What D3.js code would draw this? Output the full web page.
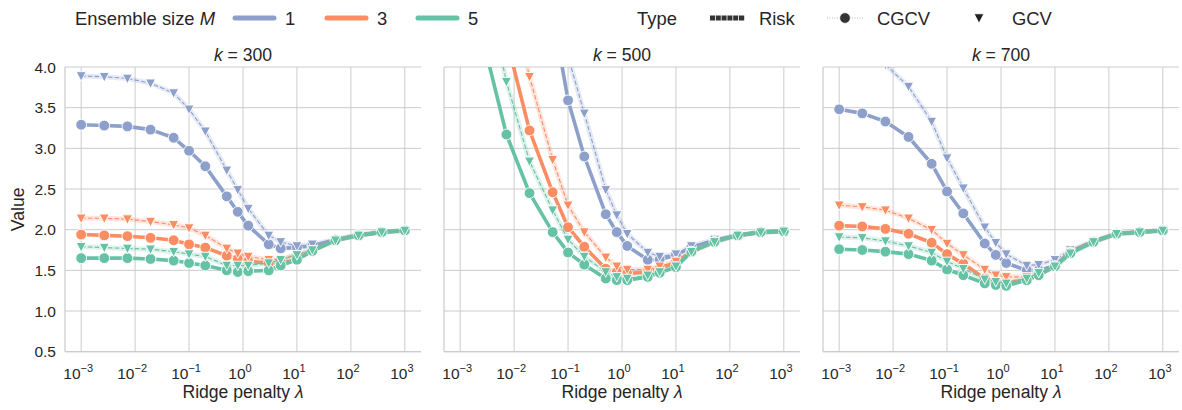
<!DOCTYPE html>
<html>
<head>
<meta charset="utf-8">
<script src="https://cdn.jsdelivr.net/npm/d3@7"></script>
<style>
  body { margin: 0; background: #fff; }
  text { font-family: "Liberation Sans", Arial, sans-serif; fill: #262626; }
</style>
</head>
<body>
<svg id="chart" width="1182" height="410"></svg>
<script>
// Ridge penalty grid (lambda) shared by every series
const lambdas = [0.001, 0.00268, 0.0072, 0.0193, 0.0518, 0.1, 0.2, 0.5, 0.8, 1.25, 3, 5, 10, 19.3, 51.8, 139, 373, 1000];
const panelKs = [300, 500, 700];
const ensembleSizes = [1, 3, 5];
const typeNames = ["Risk", "CGCV", "GCV"];
const xTickExponents = [-3, -2, -1, 0, 1, 2, 3];
const yTickValues = [0.5, 1.0, 1.5, 2.0, 2.5, 3.0, 3.5, 4.0];

// k = 300
const risk300M1 = [3.29, 3.28, 3.27, 3.23, 3.13, 2.97, 2.78, 2.41, 2.22, 2.05, 1.82, 1.77, 1.78, 1.80, 1.88, 1.93, 1.97, 1.99];
const cgcv300M1 = [3.29, 3.28, 3.27, 3.23, 3.13, 2.97, 2.78, 2.41, 2.22, 2.05, 1.82, 1.77, 1.78, 1.80, 1.88, 1.93, 1.97, 1.99];
const gcv300M1  = [3.89, 3.88, 3.86, 3.80, 3.68, 3.48, 3.21, 2.73, 2.49, 2.26, 1.93, 1.85, 1.80, 1.82, 1.88, 1.94, 1.97, 1.99];
const risk300M3 = [1.94, 1.93, 1.92, 1.90, 1.87, 1.82, 1.78, 1.68, 1.64, 1.61, 1.59, 1.59, 1.63, 1.74, 1.87, 1.93, 1.97, 1.99];
const cgcv300M3 = [1.94, 1.93, 1.92, 1.90, 1.87, 1.82, 1.78, 1.68, 1.64, 1.61, 1.59, 1.59, 1.63, 1.74, 1.87, 1.93, 1.97, 1.99];
const gcv300M3  = [2.14, 2.14, 2.13, 2.10, 2.06, 2.02, 1.93, 1.77, 1.71, 1.67, 1.63, 1.64, 1.69, 1.75, 1.87, 1.93, 1.97, 1.99];
const risk300M5 = [1.65, 1.65, 1.65, 1.64, 1.62, 1.59, 1.56, 1.50, 1.48, 1.49, 1.50, 1.56, 1.63, 1.74, 1.87, 1.93, 1.97, 1.99];
const cgcv300M5 = [1.65, 1.65, 1.65, 1.64, 1.62, 1.59, 1.56, 1.50, 1.48, 1.49, 1.50, 1.56, 1.63, 1.74, 1.87, 1.93, 1.97, 1.99];
const gcv300M5  = [1.79, 1.78, 1.77, 1.76, 1.73, 1.70, 1.67, 1.56, 1.56, 1.56, 1.59, 1.63, 1.69, 1.75, 1.87, 1.93, 1.97, 1.99];

// k = 500
const risk500M1 = [9.0, 8.0, 7.0, 5.8, 4.67, 3.59, 2.90, 2.19, 1.97, 1.80, 1.63, 1.63, 1.69, 1.78, 1.87, 1.93, 1.97, 1.98];
const cgcv500M1 = [9.0, 8.0, 7.0, 5.8, 4.67, 3.59, 2.90, 2.19, 1.97, 1.80, 1.63, 1.63, 1.69, 1.78, 1.87, 1.93, 1.97, 1.98];
const gcv500M1  = [9.5, 8.5, 7.4, 6.2, 5.3, 4.13, 3.43, 2.49, 2.18, 1.95, 1.72, 1.67, 1.70, 1.80, 1.88, 1.93, 1.97, 1.98];
const risk500M3 = [6.5, 5.5, 4.35, 3.22, 2.46, 2.03, 1.79, 1.52, 1.48, 1.46, 1.48, 1.52, 1.60, 1.73, 1.85, 1.93, 1.97, 1.98];
const cgcv500M3 = [6.5, 5.5, 4.35, 3.22, 2.46, 2.03, 1.79, 1.52, 1.48, 1.46, 1.48, 1.52, 1.60, 1.73, 1.85, 1.93, 1.97, 1.98];
const gcv500M3  = [7.5, 6.3, 5.1, 3.88, 2.86, 2.30, 1.97, 1.66, 1.55, 1.51, 1.51, 1.55, 1.61, 1.73, 1.85, 1.93, 1.97, 1.98];
const risk500M5 = [5.5, 4.32, 3.17, 2.45, 1.97, 1.72, 1.57, 1.40, 1.38, 1.38, 1.42, 1.47, 1.54, 1.73, 1.85, 1.93, 1.97, 1.98];
const cgcv500M5 = [5.5, 4.32, 3.17, 2.45, 1.97, 1.72, 1.57, 1.40, 1.38, 1.38, 1.42, 1.47, 1.54, 1.73, 1.85, 1.93, 1.97, 1.98];
const gcv500M5  = [6.5, 5.1, 3.82, 2.84, 2.24, 1.88, 1.67, 1.48, 1.42, 1.40, 1.44, 1.48, 1.55, 1.73, 1.85, 1.93, 1.97, 1.98];

// k = 700
const risk700M1 = [3.48, 3.43, 3.33, 3.14, 2.81, 2.47, 2.20, 1.83, 1.69, 1.59, 1.50, 1.50, 1.56, 1.73, 1.86, 1.95, 1.97, 1.99];
const cgcv700M1 = [3.48, 3.43, 3.33, 3.14, 2.81, 2.47, 2.20, 1.83, 1.69, 1.59, 1.50, 1.50, 1.56, 1.73, 1.86, 1.95, 1.97, 1.99];
const gcv700M1  = [4.5, 4.25, 4.03, 3.76, 3.33, 2.88, 2.51, 2.03, 1.84, 1.70, 1.56, 1.57, 1.63, 1.75, 1.86, 1.95, 1.97, 1.99];
const risk700M3 = [2.05, 2.04, 2.01, 1.95, 1.84, 1.70, 1.58, 1.40, 1.36, 1.35, 1.38, 1.44, 1.55, 1.72, 1.85, 1.95, 1.97, 1.99];
const cgcv700M3 = [2.05, 2.04, 2.01, 1.95, 1.84, 1.70, 1.58, 1.40, 1.36, 1.35, 1.38, 1.44, 1.55, 1.72, 1.85, 1.95, 1.97, 1.99];
const gcv700M3  = [2.30, 2.28, 2.24, 2.14, 2.00, 1.83, 1.69, 1.51, 1.44, 1.42, 1.42, 1.46, 1.53, 1.72, 1.85, 1.95, 1.97, 1.99];
const risk700M5 = [1.76, 1.75, 1.73, 1.70, 1.62, 1.51, 1.44, 1.34, 1.32, 1.31, 1.38, 1.44, 1.55, 1.71, 1.85, 1.95, 1.97, 1.99];
const cgcv700M5 = [1.76, 1.75, 1.73, 1.70, 1.62, 1.51, 1.44, 1.34, 1.32, 1.31, 1.38, 1.44, 1.55, 1.71, 1.85, 1.95, 1.97, 1.99];
const gcv700M5  = [1.91, 1.90, 1.86, 1.80, 1.72, 1.61, 1.52, 1.39, 1.36, 1.34, 1.40, 1.47, 1.55, 1.71, 1.85, 1.95, 1.97, 1.99];

const seriesByPanel = {
  300: { 1: [risk300M1, cgcv300M1, gcv300M1], 3: [risk300M3, cgcv300M3, gcv300M3], 5: [risk300M5, cgcv300M5, gcv300M5] },
  500: { 1: [risk500M1, cgcv500M1, gcv500M1], 3: [risk500M3, cgcv500M3, gcv500M3], 5: [risk500M5, cgcv500M5, gcv500M5] },
  700: { 1: [risk700M1, cgcv700M1, gcv700M1], 3: [risk700M3, cgcv700M3, gcv700M3], 5: [risk700M5, cgcv700M5, gcv700M5] }
};

const colorOf = d3.scaleOrdinal().domain(ensembleSizes).range(["#8da0cb", "#fc8d62", "#66c2a5"]);

// Layout
const svg = d3.select("#chart");
const panelLeft = [65, 444, 823];
const panelW = 356;
const panelTop = 67;
const panelH = 284.7;
const gridColor = "#cccccc";
const tickFont = 15.5;
const labelFont = 17.6;

const x = d3.scaleLog().domain([Math.pow(10, -3.3), Math.pow(10, 3.3)]).range([0, panelW]);
const y = d3.scaleLinear().domain([0.5, 4.0]).range([panelH, 0]);

const trianglePath = (h) => `M${-h},${-h * 0.85}L${h},${-h * 0.85}L0,${h * 1.05}Z`;

panelKs.forEach((k, pi) => {
  const g = svg.append("g").attr("transform", `translate(${panelLeft[pi]},${panelTop})`);

  // grid
  g.append("g").selectAll("line").data(xTickExponents).join("line")
    .attr("x1", e => x(Math.pow(10, e))).attr("x2", e => x(Math.pow(10, e)))
    .attr("y1", 0).attr("y2", panelH)
    .attr("stroke", gridColor).attr("stroke-width", 1);
  g.append("g").selectAll("line").data(yTickValues).join("line")
    .attr("x1", 0).attr("x2", panelW)
    .attr("y1", v => y(v)).attr("y2", v => y(v))
    .attr("stroke", gridColor).attr("stroke-width", 1);

  // spines
  g.append("line").attr("x1", 0).attr("x2", 0).attr("y1", 0).attr("y2", panelH)
    .attr("stroke", gridColor).attr("stroke-width", 1.25);
  g.append("line").attr("x1", 0).attr("x2", panelW).attr("y1", panelH).attr("y2", panelH)
    .attr("stroke", gridColor).attr("stroke-width", 1.25);

  // x tick labels: 10^e
  const xt = g.append("g");
  xTickExponents.forEach(e => {
    const t = xt.append("text")
      .attr("x", x(Math.pow(10, e)) - 3)
      .attr("y", panelH + 27)
      .attr("text-anchor", "middle")
      .attr("font-size", tickFont);
    t.append("tspan").text("10");
    t.append("tspan").attr("dy", -7).attr("font-size", 11)
      .text((e < 0 ? "\u2212" : "") + Math.abs(e));
  });

  // y tick labels (first panel only)
  if (pi === 0) {
    g.append("g").selectAll("text").data(yTickValues).join("text")
      .attr("x", -9).attr("y", v => y(v)).attr("dy", "0.36em")
      .attr("text-anchor", "end").attr("font-size", tickFont)
      .text(v => v.toFixed(1));
    g.append("text")
      .attr("transform", `translate(-41,${panelH / 2}) rotate(-90)`)
      .attr("text-anchor", "middle").attr("font-size", labelFont)
      .text("Value");
  }

  // x label
  const xl = g.append("text").attr("x", panelW / 2).attr("y", panelH + 46)
    .attr("text-anchor", "middle").attr("font-size", labelFont);
  xl.append("tspan").text("Ridge penalty ");
  xl.append("tspan").attr("font-style", "italic").text("\u03bb");

  // title
  const tt = g.append("text").attr("x", panelW / 2).attr("y", -6)
    .attr("text-anchor", "middle").attr("font-size", labelFont);
  tt.append("tspan").attr("font-style", "italic").text("k");
  tt.append("tspan").text(" = " + k);

  // clipped data area
  const clipId = "clip" + k;
  g.append("clipPath").attr("id", clipId).append("rect")
    .attr("x", 0).attr("y", 0).attr("width", panelW).attr("height", panelH);
  const area = g.append("g").attr("clip-path", `url(#${clipId})`);

  const line = d3.line().x(d => x(d[0])).y(d => y(d[1]));

  ensembleSizes.forEach(M => {
    const c = colorOf(M);
    const [risk, cgcv, gcv] = seriesByPanel[k][M];
    const pts = arr => lambdas.map((l, i) => [l, arr[i]]);

    // Risk: thick solid line
    area.append("path").datum(pts(risk)).attr("d", line)
      .attr("fill", "none").attr("stroke", c).attr("stroke-width", 3.6)
      .attr("stroke-linejoin", "round").attr("stroke-linecap", "round");

    // CGCV: dotted line with circles
    area.append("path").datum(pts(cgcv)).attr("d", line)
      .attr("fill", "none").attr("stroke", c).attr("stroke-width", 1)
      .attr("stroke-dasharray", "1,2");
    area.append("g").selectAll("circle").data(pts(cgcv)).join("circle")
      .attr("cx", d => x(d[0])).attr("cy", d => y(d[1])).attr("r", 5.4)
      .attr("fill", c).attr("stroke", "#fff").attr("stroke-width", 0.9);

    // GCV: light band, dashed line with down-pointing triangles
    area.append("path").datum(pts(gcv)).attr("d", line)
      .attr("fill", "none").attr("stroke", c).attr("stroke-width", 5)
      .attr("stroke-opacity", 0.22).attr("stroke-linejoin", "round");
    area.append("path").datum(pts(gcv)).attr("d", line)
      .attr("fill", "none").attr("stroke", c).attr("stroke-width", 1.1)
      .attr("stroke-dasharray", "4.5,2.2");
    area.append("g").selectAll("path").data(pts(gcv)).join("path")
      .attr("transform", d => `translate(${x(d[0])},${y(d[1])})`)
      .attr("d", trianglePath(5))
      .attr("fill", c).attr("stroke", "#fff").attr("stroke-width", 0.9);
  });
});

// Legend
const lg = svg.append("g");
const legendY = 18;
const legendFont = 18.4;
const lt = lg.append("text").attr("x", 75).attr("y", legendY + 6.5).attr("font-size", legendFont);
lt.append("tspan").text("Ensemble size ");
lt.append("tspan").attr("font-style", "italic").text("M");

const hueX = [235, 327, 418];
ensembleSizes.forEach((M, i) => {
  lg.append("line").attr("x1", hueX[i]).attr("x2", hueX[i] + 39)
    .attr("y1", legendY).attr("y2", legendY)
    .attr("stroke", colorOf(M)).attr("stroke-width", 5).attr("stroke-linecap", "round");
  lg.append("text").attr("x", hueX[i] + 50).attr("y", legendY + 6.5)
    .attr("font-size", legendFont).text(M);
});

lg.append("text").attr("x", 637).attr("y", legendY + 6.5).attr("font-size", legendFont).text("Type");
// Risk sample
lg.append("line").attr("x1", 710).attr("x2", 745).attr("y1", legendY).attr("y2", legendY)
  .attr("stroke", "#333").attr("stroke-width", 5).attr("stroke-dasharray", "5,0.8");
lg.append("text").attr("x", 759).attr("y", legendY + 6.5).attr("font-size", legendFont).text(typeNames[0]);
// CGCV sample
lg.append("line").attr("x1", 827).attr("x2", 863).attr("y1", legendY).attr("y2", legendY)
  .attr("stroke", "#bbb").attr("stroke-width", 1).attr("stroke-dasharray", "1,1.5");
lg.append("circle").attr("cx", 845).attr("cy", legendY).attr("r", 5.4)
  .attr("fill", "#333").attr("stroke", "#fff").attr("stroke-width", 0.9);
lg.append("text").attr("x", 877).attr("y", legendY + 6.5).attr("font-size", legendFont).text(typeNames[1]);
// GCV sample
lg.append("path").attr("transform", `translate(979,${legendY})`).attr("d", trianglePath(5))
  .attr("fill", "#222").attr("stroke", "#fff").attr("stroke-width", 0.9);
lg.append("text").attr("x", 1012).attr("y", legendY + 6.5).attr("font-size", legendFont).text(typeNames[2]);
</script>
</body>
</html>
